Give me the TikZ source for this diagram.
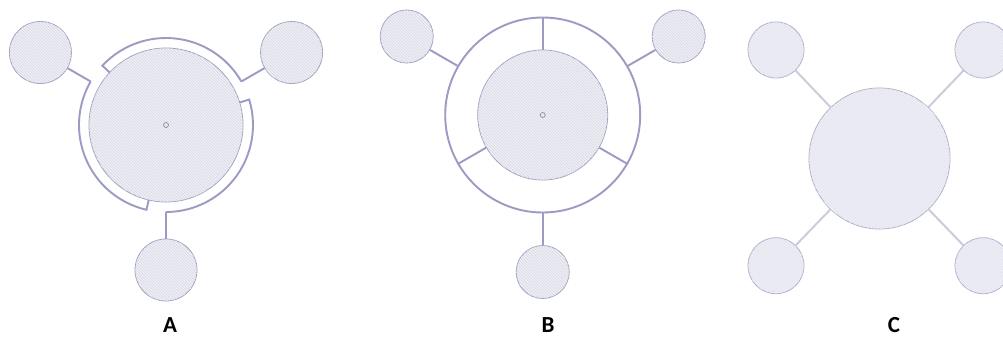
\documentclass[tikz,border=0pt]{standalone}
\usepackage{fontspec}
\setmainfont{Carlito}
\usetikzlibrary{patterns,calc}
\definecolor{edgec}{RGB}{155,155,195}
\definecolor{thinc}{RGB}{160,160,192}
\definecolor{fillc}{RGB}{238,238,245}
\definecolor{hatchc}{RGB}{216,216,230}
\definecolor{cfill}{RGB}{238,238,246}
\definecolor{chatch}{RGB}{226,226,238}
\definecolor{cline}{RGB}{204,204,220}
\begin{document}
\begin{tikzpicture}[x=1pt,y=1pt,
  hub/.style={circle, draw=thinc, line width=0.8pt, fill=fillc,
    postaction={pattern=north west lines, pattern color=hatchc}, inner sep=0pt},
  chub/.style={circle, draw=thinc!85, line width=0.8pt, fill=cfill,
    postaction={pattern=north west lines, pattern color=chatch}, inner sep=0pt},
  dot/.style={circle, draw=gray, line width=0.6pt, inner sep=0pt, minimum size=5pt},
  ring/.style={draw=edgec, line width=1.9pt},
  cconn/.style={draw=cline, line width=2pt},
  lbl/.style={font=\fontsize{23}{24}\selectfont\bfseries, inner sep=0pt}]
\useasboundingbox (0,0) rectangle (1003,338);
\clip (0,0) rectangle (1003,338);
\fill[white] (0,0) rectangle (1003,338);

% ---------- Panel A ----------
\coordinate (A) at (166,213);
\node[hub, minimum size=154pt] (Ahub) at (A) {};
\node[dot] (Adot) at (A) {};
\node[hub, minimum size=62pt] (Asat1) at ($(A)+(30:145)$) {};
\node[hub, minimum size=62pt] (Asat2) at ($(A)+(-90:145)$) {};
\node[hub, minimum size=62pt] (Asat3) at ($(A)+(150:145)$) {};
\draw[ring] ($(A)+(137:77)$) -- ($(A)+(137:87)$) arc[start angle=137, end angle=30, radius=87] coordinate (Ae1);
\draw[ring] ($(A)+(17:77)$) -- ($(A)+(17:87)$) arc[start angle=17, end angle=-90, radius=87] coordinate (Ae2);
\draw[ring] ($(A)+(-103:77)$) -- ($(A)+(-103:87)$) arc[start angle=-103, end angle=-210, radius=87] coordinate (Ae3);
\draw[ring] (Ae1) -- (Asat1);
\draw[ring] (Ae2) -- (Asat2);
\draw[ring] (Ae3) -- (Asat3);
\node[lbl] (LA) at (170,12.5) {A};

% ---------- Panel B ----------
\coordinate (B) at (542.7,223);
\node[circle, draw=edgec, line width=1.9pt, minimum size=195pt, inner sep=0pt] (Bring) at (B) {};
\node[hub, minimum size=130pt] (Bhub) at (B) {};
\node[dot] (Bdot) at (B) {};
\node[hub, minimum size=53pt] (Bsat1) at ($(B)+(30:157)$) {};
\node[hub, minimum size=53pt] (Bsat2) at ($(B)+(-90:157)$) {};
\node[hub, minimum size=53pt] (Bsat3) at ($(B)+(150:157)$) {};
\draw[ring] (Bhub.90) -- (Bring.90);
\draw[ring] (Bhub.-30) -- (Bring.-30);
\draw[ring] (Bhub.210) -- (Bring.210);
\draw[ring] (Bring.30) -- (Bsat1);
\draw[ring] (Bring.-90) -- (Bsat2);
\draw[ring] (Bring.150) -- (Bsat3);
\node[lbl] (LB) at (548,12.5) {B};

% ---------- Panel C ----------
\coordinate (C) at (879.5,179.5);
\node[chub, minimum size=141pt] (Chub) at (C) {};
\node[chub, minimum size=56pt] (Cs1) at (776,288) {};
\node[chub, minimum size=56pt] (Cs2) at (983,288) {};
\node[chub, minimum size=56pt] (Cs3) at (776,72.3) {};
\node[chub, minimum size=56pt] (Cs4) at (983,72.3) {};
\draw[cconn] (Chub) -- (Cs1);
\draw[cconn] (Chub) -- (Cs2);
\draw[cconn] (Chub) -- (Cs3);
\draw[cconn] (Chub) -- (Cs4);
\node[lbl] (LC) at (894,12.5) {C};
\end{tikzpicture}
\end{document}
